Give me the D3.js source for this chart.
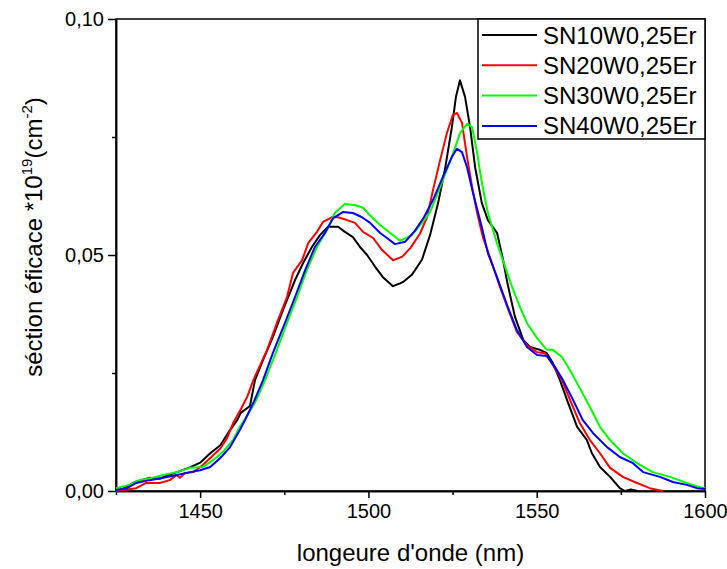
<!DOCTYPE html>
<html>
<head>
  <meta charset="utf-8">
  <style>
    body {
      margin: 0;
      background: #fff;
      font-family: Arial, "Liberation Sans", sans-serif;
    }
    .axis text {
      font-family: Arial, "Liberation Sans", sans-serif;
      font-size: 20px;
      fill: #000;
    }
    .axis path, .axis line {
      stroke: #000;
      stroke-width: 1.5px;
    }
    .title {
      font-size: 24px;
      fill: #000;
    }
    .legend-label {
      font-size: 24px;
      fill: #000;
    }
  </style>
  <script src="https://d3js.org/d3.v7.min.js"></script>
</head>
<body>
<div class="chart"></div>
<script>
// wavelength (nm), cross section (1e-19 cm^2)
const sn10 = [[1425,0],[1427,0.0005],[1430.6,0.0019],[1433,0.0024],[1435.1,0.0028],[1438,0.0026],[1440,0.0032],[1443.1,0.004],[1447,0.005],[1450,0.006],[1453,0.008],[1456,0.0097],[1458.3,0.0123],[1461,0.015],[1462,0.0165],[1464.8,0.018],[1466.3,0.0235],[1468.7,0.0278],[1471.6,0.0326],[1474.6,0.0383],[1478.2,0.0447],[1480.6,0.0483],[1483.2,0.0517],[1485.6,0.0542],[1488,0.056],[1491,0.056],[1493,0.0549],[1495.4,0.0538],[1497.5,0.0517],[1499.6,0.05],[1502,0.0475],[1504.3,0.0453],[1507.3,0.0434],[1509.4,0.044],[1510.3,0.0443],[1512.9,0.0458],[1515.9,0.049],[1518.3,0.0542],[1520.7,0.061],[1522.7,0.068],[1524.8,0.0771],[1526,0.0835],[1527.2,0.087],[1528.7,0.0835],[1530.2,0.0771],[1531.7,0.0686],[1533.7,0.061],[1535.5,0.0574],[1538.2,0.0547],[1540,0.049],[1541.3,0.044],[1543.5,0.037],[1546,0.032],[1548,0.0305],[1551,0.0299],[1553,0.0292],[1554.8,0.0271],[1556.9,0.0235],[1559,0.0193],[1562,0.0136],[1564.9,0.0108],[1566.4,0.008],[1568.8,0.0051],[1571.8,0.003],[1574.7,0.0006],[1576.2,0],[1578,0.0003],[1580,0]];
const sn20 = [[1425,0],[1427,0.0002],[1431,0.0006],[1434,0.0017],[1438,0.0017],[1441,0.0023],[1443,0.0034],[1444,0.0028],[1445.5,0.0038],[1448,0.004],[1450.8,0.0055],[1453,0.007],[1456,0.009],[1458,0.0112],[1459.8,0.0144],[1462,0.0172],[1464,0.02],[1466,0.0238],[1469.9,0.0299],[1472.8,0.0356],[1475.8,0.0411],[1477.6,0.0462],[1480.3,0.0489],[1482.1,0.0525],[1484.7,0.0549],[1486.5,0.057],[1489.2,0.058],[1491,0.058],[1493.6,0.0574],[1496,0.0568],[1498.4,0.0549],[1501.4,0.0536],[1504,0.0511],[1507.3,0.0489],[1510,0.0496],[1512.5,0.0515],[1515.3,0.0545],[1517.4,0.058],[1519.2,0.0638],[1521.3,0.0701],[1523.3,0.0758],[1525.1,0.0797],[1526.3,0.0801],[1527.8,0.078],[1529.3,0.0708],[1530.8,0.0644],[1532.3,0.0589],[1534,0.0538],[1536.7,0.0483],[1539.1,0.0432],[1541.5,0.0385],[1544.1,0.0337],[1547.1,0.0309],[1550.1,0.0294],[1552.5,0.0292],[1554.8,0.0267],[1557.5,0.0235],[1559.9,0.0193],[1562.8,0.0144],[1565.8,0.0108],[1568.8,0.008],[1571.8,0.0049],[1575.6,0.003],[1579.8,0.0017],[1583.6,0.0006],[1587.5,0]];
const sn30 = [[1425,0.0006],[1429,0.0013],[1432,0.0023],[1436,0.0028],[1439,0.0034],[1443,0.004],[1447,0.0049],[1450.8,0.0051],[1454,0.0066],[1456.8,0.0083],[1459.8,0.0108],[1461.8,0.0136],[1464,0.016],[1466.5,0.019],[1469.3,0.0235],[1472.8,0.0299],[1475.8,0.0356],[1478.8,0.0411],[1481.7,0.0468],[1484.7,0.0517],[1487.7,0.0553],[1490,0.0589],[1493,0.0608],[1496,0.0606],[1498.4,0.06],[1501,0.058],[1503.4,0.0564],[1506.4,0.0547],[1509.4,0.053],[1512.9,0.0542],[1515.9,0.0568],[1518.3,0.0591],[1521.3,0.0644],[1524.8,0.0708],[1527.2,0.0758],[1529.3,0.0778],[1530.8,0.0771],[1532.3,0.0716],[1533.7,0.0653],[1535.5,0.0589],[1538.2,0.0525],[1540.6,0.0475],[1543,0.0426],[1545,0.039],[1547.1,0.0356],[1550.1,0.0324],[1553,0.0299],[1554.8,0.0299],[1557.5,0.0284],[1559.9,0.0256],[1562.8,0.0218],[1565.8,0.0178],[1568.8,0.0136],[1571.8,0.0108],[1575.6,0.008],[1579.8,0.0059],[1584.5,0.004],[1589.6,0.003],[1594.6,0.0017],[1598.5,0.0008],[1600,0.0006]];
const sn40 = [[1425,0.0002],[1428.3,0.0006],[1431,0.0017],[1435,0.0023],[1439,0.0028],[1443,0.0034],[1447,0.004],[1450,0.0044],[1453,0.0051],[1456,0.007],[1458.9,0.0093],[1461.8,0.0129],[1463.3,0.015],[1466,0.019],[1468.7,0.0235],[1471.6,0.0292],[1475.2,0.0356],[1478.2,0.0411],[1481.2,0.0468],[1484.1,0.0517],[1487.1,0.0547],[1489.5,0.0578],[1492.4,0.0591],[1495.4,0.0589],[1498.1,0.058],[1500.5,0.0568],[1503.4,0.0547],[1505.5,0.0536],[1507.9,0.0523],[1510.9,0.0528],[1513.8,0.0551],[1516.5,0.058],[1519.2,0.0617],[1522.1,0.0665],[1524.8,0.0708],[1526.3,0.0725],[1527.8,0.0718],[1529.3,0.0686],[1531.1,0.0631],[1533.7,0.0559],[1535.5,0.0504],[1538.2,0.0453],[1541.2,0.0394],[1544.1,0.0341],[1547.1,0.0305],[1550.1,0.0288],[1553,0.0286],[1555.4,0.0263],[1557.8,0.0235],[1560.8,0.0193],[1563.7,0.015],[1566.7,0.0123],[1570.9,0.0093],[1574.7,0.0072],[1578.6,0.0059],[1581.6,0.004],[1586.6,0.003],[1590.5,0.0019],[1594.6,0.0013],[1597.6,0.0006],[1600,0.0004]];

const seriesNames = ['SN10W0,25Er', 'SN20W0,25Er', 'SN30W0,25Er', 'SN40W0,25Er'];
const seriesColours = ['#000000', '#ff0000', '#00ff00', '#0000ff'];
const xTicks = [1450, 1500, 1550, 1600];
const xMinorTicks = [1425, 1475, 1525, 1575];
const yTicks = [0, 0.05, 0.10];
const yMinorTicks = [0.025, 0.075];

const width = 727, height = 569;
const margin = {left: 116, right: 22, top: 19, bottom: 78};

const svg = d3.select('.chart').append('svg')
  .attr('width', width)
  .attr('height', height);

const x = d3.scaleLinear().domain([1425, 1600]).range([margin.left, width - margin.right]);
const y = d3.scaleLinear().domain([0, 0.1]).range([height - margin.bottom, margin.top]);

const fr = d3.formatLocale({decimal: ',', thousands: '.', grouping: [3], currency: ['', '']});
const yFmt = fr.format('.2f');

// frame
svg.append('rect')
  .attr('x', x.range()[0]).attr('y', y.range()[1])
  .attr('width', x.range()[1] - x.range()[0])
  .attr('height', y.range()[0] - y.range()[1])
  .attr('fill', 'none').attr('stroke', '#000').attr('stroke-width', 1.5);

// minor ticks first
svg.append('g').attr('class', 'axis')
  .attr('transform', `translate(0,${y.range()[0]})`)
  .call(d3.axisBottom(x).tickValues(xMinorTicks).tickSize(4).tickSizeOuter(0).tickFormat(''));
svg.append('g').attr('class', 'axis')
  .attr('transform', `translate(${x.range()[0]},0)`)
  .call(d3.axisLeft(y).tickValues(yMinorTicks).tickSize(4).tickSizeOuter(0).tickFormat(''));

svg.append('g').attr('class', 'axis')
  .attr('transform', `translate(0,${y.range()[0]})`)
  .call(d3.axisBottom(x).tickValues(xTicks).tickSize(7).tickSizeOuter(0).tickPadding(6).tickFormat(d3.format('d')));
svg.append('g').attr('class', 'axis')
  .attr('transform', `translate(${x.range()[0]},0)`)
  .call(d3.axisLeft(y).tickValues(yTicks).tickSize(8).tickSizeOuter(0).tickPadding(4).tickFormat(yFmt));

// curves
const line = d3.line().x(d => x(d[0])).y(d => y(d[1]));
[sn10, sn20, sn30, sn40].forEach((s, i) => {
  svg.append('path')
    .datum(s)
    .attr('fill', 'none')
    .attr('stroke', seriesColours[i])
    .attr('stroke-width', 2)
    .attr('stroke-linejoin', 'round')
    .attr('d', line);
});

// axis titles
svg.append('text')
  .attr('class', 'title')
  .attr('x', (x.range()[0] + x.range()[1]) / 2)
  .attr('y', 561)
  .attr('text-anchor', 'middle')
  .text("longeure d'onde (nm)");

const yTitle = svg.append('text')
  .attr('class', 'title')
  .attr('transform', 'translate(42,237) rotate(-90)')
  .attr('text-anchor', 'middle');
yTitle.append('tspan').text('séction éficace *10');
yTitle.append('tspan').attr('font-size', '15px').attr('dy', -10).text('19');
yTitle.append('tspan').attr('dy', 10).text('(cm');
yTitle.append('tspan').attr('font-size', '15px').attr('dy', -10).text('-2');
yTitle.append('tspan').attr('dy', 10).text(')');

// legend
const legend = svg.append('g').attr('transform', 'translate(478,19)');
legend.append('rect')
  .attr('width', x.range()[1] - 478).attr('height', 120)
  .attr('fill', '#fff').attr('stroke', '#000').attr('stroke-width', 1.5);
seriesNames.forEach((name, i) => {
  const gy = 16 + i * 30.3;
  legend.append('line')
    .attr('x1', 4).attr('x2', 59).attr('y1', gy).attr('y2', gy)
    .attr('stroke', seriesColours[i]).attr('stroke-width', 2);
  legend.append('text')
    .attr('class', 'legend-label')
    .attr('x', 65).attr('y', gy + 8.5)
    .text(name);
});
</script>
</body>
</html>
